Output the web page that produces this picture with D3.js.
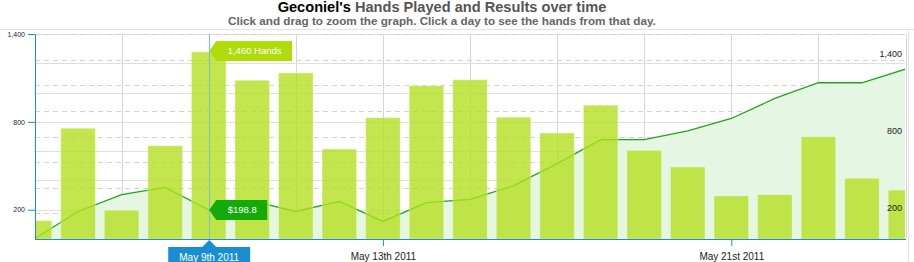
<!DOCTYPE html>
<html>
<head>
<meta charset="utf-8">
<script src="https://cdn.jsdelivr.net/npm/d3@7"></script>
<style>
  body { margin: 0; background: #fff; }
  svg { display: block; font-family: "Liberation Sans", Arial, sans-serif; }
</style>
</head>
<body>
<div id="chart"></div>
<script>
var days = ["2011-05-05", "2011-05-06", "2011-05-07", "2011-05-08", "2011-05-09", "2011-05-10", "2011-05-11",
            "2011-05-12", "2011-05-13", "2011-05-14", "2011-05-15", "2011-05-16", "2011-05-17", "2011-05-18",
            "2011-05-19", "2011-05-20", "2011-05-21", "2011-05-22", "2011-05-23", "2011-05-24", "2011-05-25"];
var hands   = [143, 864, 224, 728, 1460, 1239, 1296, 702, 947, 1196, 1243, 950, 827, 1044, 692, 562, 336, 346, 798, 474, 382];
var results = [2, 188, 303, 353, 198.8, 260, 188, 257, 120, 248, 270, 364, 515, 679, 679, 738, 823, 960, 1067, 1067, 1160];
var results_ticks = [200, 800, 1400];
var hands_ticks   = [200, 800, 1400];
var date_ticks    = ["2011-05-13", "2011-05-21"];
var picked_day    = "2011-05-09";

var width_chart  = 914;
var height_chart = 262;
var left_plot    = 35;
var right_plot   = 905;
var top_plot     = 34;
var bottom_plot  = 239;

var parse_day = d3.timeParse("%Y-%m-%d");
var dates = days.map(parse_day);

var x = d3.scaleTime()
  .domain(d3.extent(dates))
  .range([34.5, 905.5]);
var y_results = d3.scaleLinear()
  .domain([0, 1400])
  .range([bottom_plot, top_plot]);
var y_hands = d3.scaleLinear()
  .domain([0, 1600])
  .range([bottom_plot, top_plot]);

function day_label (d) {
  var n = d.getDate();
  var s = "th";
  if (n % 10 == 1 && n != 11) s = "st";
  else if (n % 10 == 2 && n != 12) s = "nd";
  else if (n % 10 == 3 && n != 13) s = "rd";
  return d3.timeFormat("%B ")(d) + n + s + d3.timeFormat(" %Y")(d);
}

var svg = d3.select("#chart").append("svg")
  .attr("width", width_chart)
  .attr("height", height_chart);

// frame lines
svg.append("line").attr("x1", 0).attr("x2", width_chart).attr("y1", 29.5).attr("y2", 29.5)
  .attr("stroke", "#e2e2e2");
svg.append("line").attr("x1", 908.5).attr("x2", 908.5).attr("y1", 29).attr("y2", height_chart)
  .attr("stroke", "#e2e2e2");

// title
var title = svg.append("text")
  .attr("x", 442).attr("y", 12)
  .attr("text-anchor", "middle")
  .style("font-size", "14.6px").style("font-weight", "bold");
title.append("tspan").attr("fill", "#000").text("Geconiel's");
title.append("tspan").attr("fill", "#555").text(" Hands Played and Results over time");
svg.append("text")
  .attr("x", 442).attr("y", 25)
  .attr("text-anchor", "middle")
  .attr("fill", "#666")
  .style("font-size", "11.7px").style("font-weight", "bold")
  .text("Click and drag to zoom the graph. Click a day to see the hands from that day.");

svg.append("clipPath").attr("id", "plot_clip")
  .append("rect")
  .attr("x", left_plot).attr("y", top_plot)
  .attr("width", right_plot - left_plot).attr("height", bottom_plot - top_plot);

// grid lines
var grid_solid = svg.append("g")
  .attr("transform", "translate(" + left_plot + ",0)")
  .call(d3.axisLeft(y_results).tickValues(d3.range(0, 1401, 200)).tickSize(-(right_plot - left_plot)).tickFormat(""));
grid_solid.select(".domain").remove();
grid_solid.selectAll("line").attr("stroke", "#e0e0e0").attr("shape-rendering", "crispEdges");

var grid_dashed = svg.append("g")
  .attr("transform", "translate(" + left_plot + ",0)")
  .call(d3.axisLeft(y_hands).tickValues(d3.range(200, 1601, 200)).tickSize(-(right_plot - left_plot)).tickFormat(""));
grid_dashed.select(".domain").remove();
grid_dashed.selectAll("line").attr("stroke", "#d2d2d2").attr("stroke-dasharray", "5,4")
  .attr("shape-rendering", "crispEdges");

var grid_x = svg.append("g")
  .attr("transform", "translate(0," + bottom_plot + ")")
  .call(d3.axisBottom(x).ticks(d3.timeDay.every(2)).tickSize(-(bottom_plot - top_plot)).tickFormat(""));
grid_x.select(".domain").remove();
grid_x.selectAll("line").attr("stroke", "#d6d6d6").attr("shape-rendering", "crispEdges");

var plot = svg.append("g").attr("clip-path", "url(#plot_clip)");

var points = dates.map(function (d, i) { return {date: d, value: results[i]}; });

var area_results = d3.area()
  .x(function (d) { return x(d.date); })
  .y0(bottom_plot)
  .y1(function (d) { return y_results(d.value); });
var line_results = d3.line()
  .x(function (d) { return x(d.date); })
  .y(function (d) { return y_results(d.value); });

plot.append("path").datum(points)
  .attr("d", area_results)
  .attr("fill", "#e5f6e2");
plot.append("path").datum(points)
  .attr("d", line_results)
  .attr("fill", "none")
  .attr("stroke", "#1fa61a")
  .attr("stroke-width", 1.3);

plot.append("g").selectAll("rect")
  .data(dates)
  .join("rect")
  .attr("x", function (d) { return x(d) - 17.25; })
  .attr("width", 34.5)
  .attr("y", function (d, i) { return y_hands(hands[i]); })
  .attr("height", function (d, i) { return bottom_plot - y_hands(hands[i]); })
  .attr("fill", "#b4e022")
  .attr("fill-opacity", 0.8)
  .attr("stroke", "#ffffff")
  .attr("stroke-opacity", 0.3);

// axes
var axis_left = svg.append("g")
  .attr("transform", "translate(" + left_plot + ",0)")
  .call(d3.axisLeft(y_results).tickValues(results_ticks).tickSize(7).tickPadding(3).tickSizeOuter(0)
    .tickFormat(d3.format(",")));
axis_left.selectAll("path, line").attr("stroke", "#1a8ed2");
axis_left.selectAll("text").attr("fill", "#1a1a2a").style("font-size", "7px").style("font-family", "inherit");

var axis_right = svg.append("g")
  .attr("transform", "translate(" + right_plot + ",0)")
  .call(d3.axisLeft(y_hands).tickValues(hands_ticks).tickSize(0).tickPadding(3).tickFormat(d3.format(",")));
axis_right.select(".domain").remove();
axis_right.selectAll("text").attr("y", -6).attr("fill", "#1a1a2a").style("font-size", "9px").style("font-family", "inherit");

var axis_bottom = svg.append("g")
  .attr("transform", "translate(0," + bottom_plot + ")")
  .call(d3.axisBottom(x).tickValues(date_ticks.map(parse_day)).tickSize(7).tickPadding(7).tickSizeOuter(0)
    .tickFormat(day_label));
axis_bottom.selectAll("path, line").attr("stroke", "#1a8ed2");
axis_bottom.selectAll("text").attr("fill", "#1a1a1a").style("font-size", "10px").style("font-family", "inherit");

// crosshair and tooltips for the picked day
var picked = parse_day(picked_day);
var picked_i = days.indexOf(picked_day);
var px = x(picked) + 0.5;

svg.append("line")
  .attr("x1", px).attr("x2", px)
  .attr("y1", top_plot).attr("y2", bottom_plot)
  .attr("stroke", "#74bde3")
  .attr("shape-rendering", "crispEdges");

function tip_box (ty, color, label) {
  var g = svg.append("g");
  var shape = g.append("path").attr("fill", color);
  var t = g.append("text")
    .attr("x", px + 18.5).attr("y", ty + 3.5)
    .attr("fill", "#fff")
    .style("font-size", "9.5px")
    .text(label);
  var w = t.node().getComputedTextLength() + 22;
  shape.attr("d", "M" + px + "," + ty + "L" + (px + 7) + "," + (ty - 10) + "H" + (px + 7 + w) +
    "V" + (ty + 10) + "H" + (px + 7) + "Z");
}
tip_box(y_hands(hands[picked_i]) - 1, "#b0dc0b", d3.format(",")(hands[picked_i]) + " Hands");
tip_box(y_results(results[picked_i]), "#14aa0a", "$" + results[picked_i]);

var date_tip = svg.append("g");
date_tip.append("path")
  .attr("d", "M" + px + "," + (bottom_plot + 1) + "L" + (px + 7) + ",247H" + (px + 41) + "V270H" + (px - 41) +
    "V247H" + (px - 7) + "Z")
  .attr("fill", "#1a8ed2");
date_tip.append("text")
  .attr("x", px).attr("y", 261)
  .attr("text-anchor", "middle")
  .attr("fill", "#fff")
  .style("font-size", "10px")
  .text(day_label(picked));
</script>
</body>
</html>
